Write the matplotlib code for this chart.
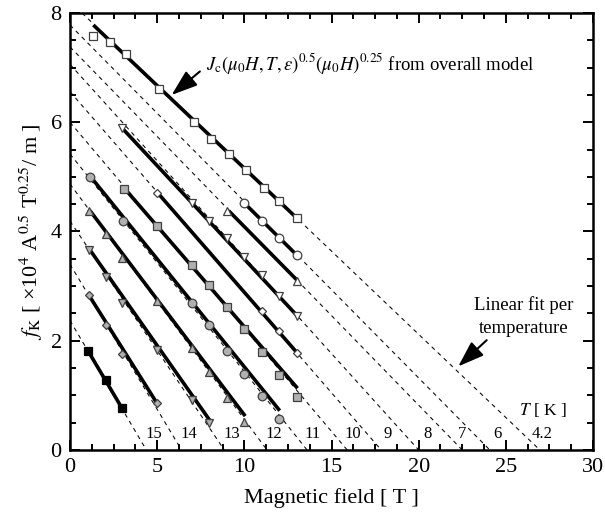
import numpy as np
import matplotlib
matplotlib.use("Agg")
from matplotlib import pyplot as plt
from matplotlib.ticker import MultipleLocator

plt.rcParams['font.family'] = ['Liberation Serif', 'DejaVu Serif']
plt.rcParams['mathtext.fontset'] = 'stix'

# temperatures [K]
temps = [4.2, 6, 7, 8, 9, 10, 11, 12, 13, 14, 15]

# measured data, field [T] and fK
B_42 = [1.3, 2.3, 3.2, 5.1, 7.1, 8.1, 9.1, 10.1, 11.1, 12.0, 13.0]
f_42 = [7.58, 7.47, 7.25, 6.61, 6.00, 5.70, 5.42, 5.13, 4.80, 4.55, 4.24]
B_6 = [10, 11, 12, 13]
f_6 = [4.52, 4.20, 3.89, 3.57]
B_7 = [9, 13]
f_7 = [4.38, 3.10]
B_8 = [3, 7, 8, 9, 10, 11, 12, 13]
f_8 = [5.89, 4.52, 4.20, 3.88, 3.54, 3.20, 2.82, 2.46]
B_9 = [5, 11, 12, 13]
f_9 = [4.70, 2.55, 2.17, 1.77]
B_10 = [3.1, 5, 7, 8, 9, 10, 11, 12, 13]
f_10 = [4.77, 4.10, 3.38, 3.02, 2.61, 2.22, 1.80, 1.37, 0.97]
B_11 = [1.15, 3.05, 7, 8, 9, 10, 11, 12]
f_11 = [4.99, 4.19, 2.69, 2.29, 1.81, 1.39, 0.98, 0.56]
B_12 = [1.1, 2.05, 3, 5, 7, 8, 9, 10]
f_12 = [4.38, 3.95, 3.51, 2.72, 1.86, 1.43, 0.95, 0.52]
B_13 = [1.1, 2.05, 3, 5, 7, 8]
f_13 = [3.66, 3.16, 2.69, 1.83, 0.92, 0.50]
B_14 = [1.1, 2.05, 3, 5]
f_14 = [2.83, 2.29, 1.76, 0.86]
B_15 = [1.05, 2.05, 3]
f_15 = [1.81, 1.28, 0.76]

# overall model (start/end of each curve)
mB_42 = [1.34, 13.06]; mf_42 = [7.78, 4.23]
mB_6 = [10.0, 13.0]; mf_6 = [4.52, 3.57]
mB_7 = [9.1, 13.05]; mf_7 = [4.38, 3.10]
mB_8 = [3.0, 13.05]; mf_8 = [5.89, 2.45]
mB_9 = [5.05, 13.05]; mf_9 = [4.70, 1.77]
mB_10 = [3.15, 13.05]; mf_10 = [4.78, 1.13]
mB_11 = [1.19, 12.03]; mf_11 = [5.00, 0.72]
mB_12 = [1.15, 10.05]; mf_12 = [4.38, 0.62]
mB_13 = [1.15, 8.0]; mf_13 = [3.66, 0.55]
mB_14 = [1.11, 5.02]; mf_14 = [2.82, 0.84]
mB_15 = [1.06, 3.01]; mf_15 = [1.80, 0.75]

# linear fits per temperature: value at B=0 and x-intercept
fit_f0 = [8.21, 7.78, 7.38, 7.06, 6.56, 6.00, 5.42, 4.87, 4.19, 3.40, 2.37]
fit_Bc2 = [26.95, 24.08, 22.5, 20.0, 17.85, 15.9, 13.6, 11.3, 8.85, 6.4, 4.38]

# temperature label positions
lab_txt = ['4.2', '6', '7', '8', '9', '10', '11', '12', '13', '14', '15']
lab_x = [27.1, 24.5, 22.5, 20.5, 18.2, 16.2, 13.9, 11.7, 9.3, 6.8, 4.8]

data = [(B_42, f_42), (B_6, f_6), (B_7, f_7), (B_8, f_8), (B_9, f_9), (B_10, f_10),
        (B_11, f_11), (B_12, f_12), (B_13, f_13), (B_14, f_14), (B_15, f_15)]
model = [(mB_42, mf_42), (mB_6, mf_6), (mB_7, mf_7), (mB_8, mf_8), (mB_9, mf_9),
         (mB_10, mf_10), (mB_11, mf_11), (mB_12, mf_12), (mB_13, mf_13),
         (mB_14, mf_14), (mB_15, mf_15)]

gray = '#b0b0b0'
edge = '#404040'
styles = [('s', 'white', 6), ('o', 'white', 6.2), ('^', 'white', 6), ('v', 'white', 6),
          ('D', 'white', 3.6), ('s', gray, 6), ('o', gray, 6.2), ('^', gray, 6),
          ('v', gray, 6), ('D', gray, 3.6), ('s', 'black', 6)]

fig = plt.figure(figsize=(6.05, 5.25), dpi=100)
ax = fig.add_axes([0.1157, 0.1429, 0.8645, 0.8323])

for f0, bc in zip(fit_f0, fit_Bc2):
    xs = np.array([0, bc])
    ax.plot(xs, f0 - f0 / bc * xs, color='black', lw=0.75, ls=(0, (4, 4)), zorder=1)

for mB, mf in model:
    ax.plot(mB, mf, color='black', lw=2.6, solid_capstyle='butt', zorder=2)

for (B, f), (m, fc, ms) in zip(data, styles):
    ec = 'black' if fc == 'black' else edge
    ax.plot(B, f, ls='none', marker=m, ms=ms, mfc=fc, mec=ec, mew=0.9, zorder=3)

for t, x in zip(lab_txt, lab_x):
    ax.text(x, 0.3, t, fontsize=12, ha='center', va='center')
ax.text(27.1, 0.73, r'$T$ [ K ]', fontsize=12.5, ha='center', va='center')

arrow = dict(arrowstyle='-|>,head_length=1.0,head_width=0.35', color='black',
             lw=1.5, shrinkA=0, shrinkB=0, mutation_scale=16)
ax.text(7.8, 7.08, r'$J_\mathrm{c}(\mu_0H,T,\varepsilon)^{0.5}(\mu_0H)^{0.25}$ from overall model',
        fontsize=13.5, va='center', ha='left')
ax.annotate('', xy=(5.83, 6.50), xytext=(7.45, 6.93), arrowprops=arrow)
ax.text(26.0, 2.45, 'Linear fit per\ntemperature', fontsize=13.5, ha='center',
        va='center', linespacing=1.45)
ax.annotate('', xy=(22.27, 1.53), xytext=(23.9, 2.01), arrowprops=arrow)

ax.set_xlim(0, 30)
ax.set_ylim(0, 8)
ax.xaxis.set_major_locator(MultipleLocator(5))
ax.xaxis.set_minor_locator(MultipleLocator(1.25))
ax.yaxis.set_major_locator(MultipleLocator(2))
ax.yaxis.set_minor_locator(MultipleLocator(0.5))
ax.tick_params(which='both', direction='in', top=True, right=True, width=1.4)
ax.tick_params(which='major', length=7, labelsize=16, pad=6)
ax.tick_params(which='minor', length=4)
for s in ax.spines.values():
    s.set_linewidth(1.8)

ax.set_xlabel('Magnetic field [ T ]', fontsize=16, labelpad=8)
ax.set_ylabel(r'$f_\mathrm{K}$ [ ×10$^4$ A$^{0.5}$ T$^{0.25}$/ m ]', fontsize=16, labelpad=4)

fig.savefig('out.png', dpi=100)
